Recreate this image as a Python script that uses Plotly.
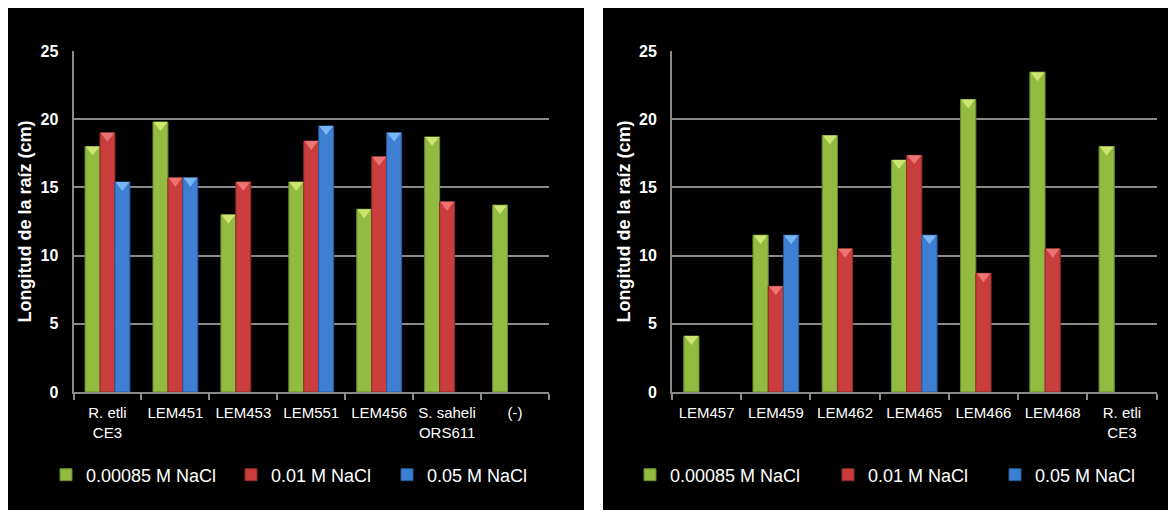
import plotly.graph_objects as go

# ---------------- data ----------------
series_names = ["0.00085 M NaCl", "0.01 M NaCl", "0.05 M NaCl"]

cats_left = ["R. etli<br>CE3", "LEM451", "LEM453", "LEM551", "LEM456", "S. saheli<br>ORS611", "(-)"]
green_left = [18.0, 19.8, 13.0, 15.4, 13.4, 18.7, 13.7]
red_left = [19.0, 15.7, 15.4, 18.4, 17.25, 13.95, None]
blue_left = [15.4, 15.7, None, 19.5, 19.0, None, None]

cats_right = ["LEM457", "LEM459", "LEM462", "LEM465", "LEM466", "LEM468", "R. etli<br>CE3"]
green_right = [4.1, 11.5, 18.8, 17.0, 21.45, 23.45, 18.0]
red_right = [None, 7.75, 10.5, 17.35, 8.7, 10.5, None]
blue_right = [None, 11.5, None, 11.5, None, None, None]

y_title = "Longitud de la raíz (cm)"
y_ticks = [0, 5, 10, 15, 20, 25]

# ---------------- style ----------------
W, H = 1176, 512
OFF = 8  # page offset of the figure inside the browser window
FONT = "Liberation Sans, Arial, sans-serif"
body_colors = ["#92bb40", "#c93d3d", "#3d7fd2"]
edge_colors = ["#6a8c2a", "#8e2b2b", "#2a5a9c"]
cap_colors = ["#cfe573", "#ec7474", "#7ab6f5"]
BARGAP = 0.34
grid_c = "#8a8a8a"


def px_x(v):
    return (v - OFF) / W


def px_y(v):
    return 1 - (v - OFF) / H


fig = go.Figure()

panels = [
    dict(cats=cats_left, vals=[green_left, red_left, blue_left], xa="x", ya="y", xo="x3",
         legends=["legend", "legend2", "legend3"], text_x=[86, 271, 427],
         dom=[px_x(73.5), px_x(549)]),
    dict(cats=cats_right, vals=[green_right, red_right, blue_right], xa="x2", ya="y2", xo="x4",
         legends=["legend4", "legend5", "legend6"], text_x=[670, 868, 1035],
         dom=[px_x(672), px_x(1156.5)]),
]

bw = (1 - BARGAP) / 3
cap_off = 0.22  # visual offset so the cap sits inside the bar top

legend_layouts = {}
for p in panels:
    for k, (name, vals) in enumerate(zip(series_names, p["vals"])):
        fig.add_trace(go.Bar(
            x=p["cats"], y=vals, name=name, xaxis=p["xa"], yaxis=p["ya"],
            marker=dict(color=body_colors[k], line=dict(width=1, color=edge_colors[k])),
            legend=p["legends"][k], showlegend=True, hoverinfo="skip",
        ))
        legend_layouts[p["legends"][k]] = dict(
            orientation="h", x=px_x(p["text_x"][k] - 40), y=px_y(475),
            xanchor="left", yanchor="middle",
            font=dict(family=FONT, size=18, color="white"), bgcolor="rgba(0,0,0,0)",
            itemwidth=30,
        )
    for k, vals in enumerate(p["vals"]):
        xs, ys = [], []
        for i, v in enumerate(vals):
            if v is not None:
                xs.append(i + (k - 1) * bw)
                ys.append(v - cap_off)
        fig.add_trace(go.Scatter(
            x=xs, y=ys, mode="markers", xaxis=p["xo"], yaxis=p["ya"],
            marker=dict(symbol="triangle-down", size=12, color=cap_colors[k], line=dict(width=0)),
            showlegend=False, hoverinfo="skip",
        ))

ydom = [px_y(392), px_y(51)]

common_x = dict(
    type="category", showgrid=False, showline=True, linecolor=grid_c, linewidth=2,
    ticks="outside", tickson="boundaries", ticklen=6, tickcolor=grid_c, tickwidth=2,
    ticklabelstandoff=6,
    tickfont=dict(family=FONT, size=15, color="white"), range=[-0.5, 6.5], automargin=False,
)
common_y = dict(
    range=[0, 25], tickvals=y_ticks, showgrid=True, gridcolor=grid_c, gridwidth=2,
    showline=True, linecolor=grid_c, linewidth=2, zeroline=False,
    ticks="", ticklabelstandoff=10, automargin=False,
    tickfont=dict(family=FONT, size=16, color="white", weight="bold"),
    title=dict(text=y_title, font=dict(family=FONT, size=18, color="white", weight="bold"), standoff=4),
)

fig.update_layout(
    width=W, height=H, margin=dict(l=0, r=0, t=0, b=0, autoexpand=False),
    paper_bgcolor="white", plot_bgcolor="#404040",
    barmode="group", bargap=BARGAP, bargroupgap=0,
    xaxis=dict(common_x, domain=panels[0]["dom"], anchor="y"),
    yaxis=dict(common_y, domain=ydom, anchor="x"),
    xaxis2=dict(common_x, domain=panels[1]["dom"], anchor="y2"),
    yaxis2=dict(common_y, domain=ydom, anchor="x2"),
    xaxis3=dict(domain=panels[0]["dom"], anchor="y", overlaying="x", range=[-0.5, 6.5], visible=False),
    xaxis4=dict(domain=panels[1]["dom"], anchor="y2", overlaying="x2", range=[-0.5, 6.5], visible=False),
    shapes=[
        dict(type="rect", xref="paper", yref="paper", x0=0, x1=px_x(584), y0=px_y(510), y1=1,
             fillcolor="black", line=dict(width=0), layer="below"),
        dict(type="rect", xref="paper", yref="paper", x0=px_x(603), x1=px_x(1172), y0=px_y(510), y1=1,
             fillcolor="black", line=dict(width=0), layer="below"),
    ],
    **legend_layouts,
)

fig.write_html("out.html")
